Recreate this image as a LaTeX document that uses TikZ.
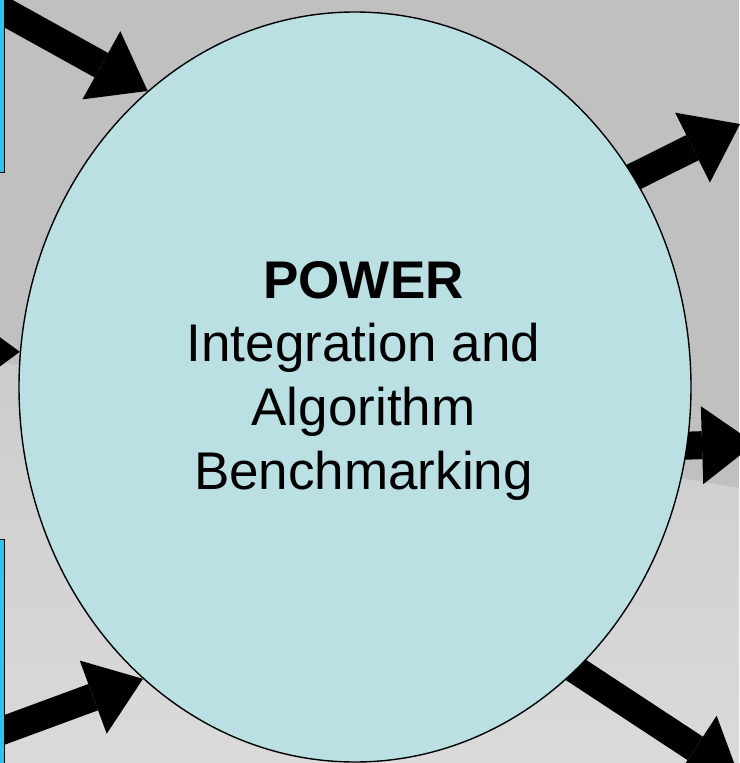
\documentclass[tikz,border=0pt]{standalone}
\usepackage{fontspec}
\setmainfont{Liberation Sans}
\usetikzlibrary{arrows.meta,shapes.geometric,calc}
\pgfdeclarelayer{backdrop}
\pgfdeclarelayer{arrowlayer}
\pgfsetlayers{backdrop,arrowlayer,main}
\definecolor{skygray}{RGB}{192,192,192}
\definecolor{groundtop}{RGB}{204,204,204}
\definecolor{groundbot}{RGB}{218,218,218}
\definecolor{bubblefill}{RGB}{186,224,227}
\definecolor{barblue}{RGB}{41,197,240}
\tikzset{
  bigarrow/.style={black, line width=28pt, -{Triangle[length=53pt,width=78pt,line width=0pt]}},
  bubble/.style={ellipse, draw=black, line width=1.4pt, fill=bubblefill,
    minimum width=672pt, minimum height=750pt, inner sep=0pt},
  caption/.style={anchor=base, text=black, inner sep=0pt, font=\fontsize{53pt}{62pt}\selectfont},
  sidebar/.style={fill=barblue, draw=black, line width=0.8pt},
}
\begin{document}
\begin{tikzpicture}[x=1pt,y=-1pt]
\useasboundingbox (0,0) rectangle (739,763);

% backdrop: grey sky with a lighter ground band
\begin{pgfonlayer}{backdrop}
  \fill[skygray] (0,0) rectangle (739,763);
  \shade[top color=groundtop, bottom color=groundbot]
    (0,362) -- (739,488) -- (739,763) -- (0,763) -- cycle;
\end{pgfonlayer}

% central bubble
\node[bubble] (E) at (355,387) {};

% caption
\node[caption, font=\fontsize{53pt}{62pt}\selectfont\bfseries] (t1) at (363.5,298) {POWER};
\node[caption] (t2) at (363.5,361) {Integration and};
\node[caption] (t3) at (363.5,425) {Algorithm};
\node[caption] (t4) at (363.5,489) {Benchmarking};

% outer ends of the arrows
\coordinate (inTL) at (-27,-6);
\coordinate (inL) at (-120,352);
\coordinate (inBL) at (-42,747);
\coordinate (outTR) at (740,124);
\coordinate (outR) at (755,443.5);
\coordinate (outBR) at (739.5,777.5);

\begin{pgfonlayer}{arrowlayer}
  \draw[bigarrow] (inTL) -- (E.125.2);
  \draw[bigarrow] (inL) -- (E.174);
  \draw[bigarrow] (inBL) -- (E.234.9);
  \draw[bigarrow, shorten <=-30pt] (E.37.2) -- (outTR);
  \draw[bigarrow, shorten <=-30pt] (E.350.35) -- (outR);
  \draw[bigarrow, shorten <=-30pt] (E.308.9) -- (outBR);
\end{pgfonlayer}

% side bars at the left edge
\draw[sidebar] (-5,-5) rectangle (4,172);
\draw[sidebar] (-5,539) rectangle (4,770);
\end{tikzpicture}
\end{document}
